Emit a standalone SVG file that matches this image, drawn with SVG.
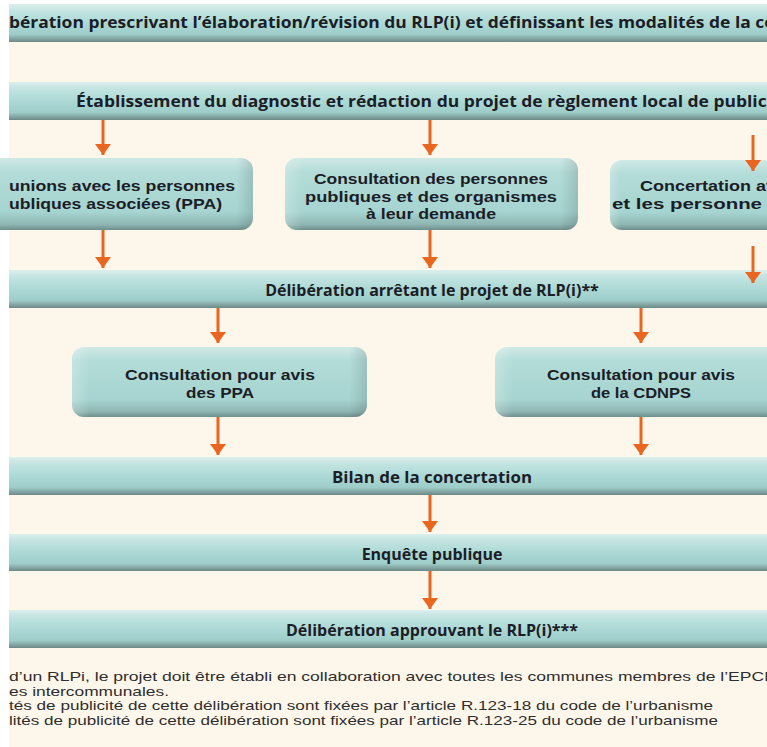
<svg xmlns="http://www.w3.org/2000/svg" width="767" height="747" viewBox="0 0 767 747">
  <defs>
    <linearGradient id="gBar" x1="0" y1="0" x2="0" y2="1">
      <stop offset="0" stop-color="#dcefed"/>
      <stop offset="0.18" stop-color="#c3e4e1"/>
      <stop offset="0.5" stop-color="#acd9d5"/>
      <stop offset="0.8" stop-color="#9ecdc9"/>
      <stop offset="0.9" stop-color="#86aaa7"/>
      <stop offset="1" stop-color="#6c8886"/>
    </linearGradient>
    <linearGradient id="gBox" x1="0" y1="0" x2="0" y2="1">
      <stop offset="0" stop-color="#cfe9e6"/>
      <stop offset="0.2" stop-color="#b3dcd8"/>
      <stop offset="0.75" stop-color="#a6d4d0"/>
      <stop offset="0.92" stop-color="#8fb6b3"/>
      <stop offset="1" stop-color="#6f8f8c"/>
    </linearGradient>
    <linearGradient id="gBoxH" x1="0" y1="0" x2="1" y2="0">
      <stop offset="0" stop-color="#ffffff" stop-opacity="0.25"/>
      <stop offset="0.06" stop-color="#ffffff" stop-opacity="0"/>
      <stop offset="0.94" stop-color="#000000" stop-opacity="0"/>
      <stop offset="1" stop-color="#000000" stop-opacity="0.12"/>
    </linearGradient>
    <marker id="ah" viewBox="0 0 11 16" refX="11" refY="8" markerWidth="11" markerHeight="16" markerUnits="userSpaceOnUse" orient="auto">
      <path d="M0,0 L11,8 L0,16 Z" fill="#e8661f"/>
    </marker>
  </defs>
  <style>
    .bar { fill: url(#gBar); }
    .box { fill: url(#gBox); }
    .boxh { fill: url(#gBoxH); }
    .t { font-family: "Open Sans", "DejaVu Sans", sans-serif; font-weight: 700; font-size: 16px; fill: #1b1d27; }
    .b { font-family: "Liberation Sans", Arial, sans-serif; font-weight: 700; font-size: 15px; fill: #1b1d27; }
    .c { text-anchor: middle; }
    .fn { font-family: "Liberation Sans", Arial, sans-serif; font-weight: 400; font-size: 13px; fill: #2e2e2e; }
    .arr line { stroke: #e8661f; stroke-width: 3; }
  </style>

  <rect x="0" y="0" width="767" height="747" fill="#ffffff"/>
  <rect x="9" y="4" width="758" height="743" fill="#fdf6ea"/>

  <g id="bar1">
    <rect class="bar" x="9" y="4" width="758" height="38"/>
    <text class="t" x="9" y="28" textLength="766" lengthAdjust="spacingAndGlyphs">bération prescrivant l’élaboration/révision du RLP(i) et définissant les modalités de la co</text>
  </g>

  <g id="bar2">
    <rect class="bar" x="9" y="82" width="758" height="38"/>
    <text class="t" x="76" y="107" textLength="696" lengthAdjust="spacingAndGlyphs">Établissement du diagnostic et rédaction du projet de règlement local de publici</text>
  </g>

  <g id="box-reunions">
    <rect class="box" x="-20" y="158" width="273" height="72" rx="12"/>
    <rect class="boxh" x="-20" y="158" width="273" height="72" rx="12"/>
    <text class="b" x="9" y="191" textLength="226" lengthAdjust="spacingAndGlyphs">unions avec les personnes</text>
    <text class="b" x="9" y="209" textLength="213" lengthAdjust="spacingAndGlyphs">ubliques associées (PPA)</text>
  </g>

  <g id="box-consultation">
    <rect class="box" x="285" y="158" width="293" height="72" rx="12"/>
    <rect class="boxh" x="285" y="158" width="293" height="72" rx="12"/>
    <text class="b c" x="431" y="184" textLength="234" lengthAdjust="spacingAndGlyphs">Consultation des personnes</text>
    <text class="b c" x="431" y="201.5" textLength="252" lengthAdjust="spacingAndGlyphs">publiques et des organismes</text>
    <text class="b c" x="431" y="219" textLength="130" lengthAdjust="spacingAndGlyphs">à leur demande</text>
  </g>

  <g id="box-concertation">
    <rect class="box" x="610" y="160" width="180" height="70" rx="12"/>
    <rect class="boxh" x="610" y="160" width="180" height="70" rx="12"/>
    <text class="b" x="640" y="191" textLength="136" lengthAdjust="spacingAndGlyphs">Concertation av</text>
    <text class="b" x="612" y="209" textLength="150" lengthAdjust="spacingAndGlyphs">et les personne</text>
  </g>

  <g id="bar3">
    <rect class="bar" x="9" y="270" width="758" height="38"/>
    <text class="t c" x="432" y="296">Délibération arrêtant le projet de RLP(i)**</text>
  </g>

  <g id="box-ppa">
    <rect class="box" x="72" y="347" width="295" height="70" rx="12"/>
    <rect class="boxh" x="72" y="347" width="295" height="70" rx="12"/>
    <text class="b c" x="220" y="380" textLength="190" lengthAdjust="spacingAndGlyphs">Consultation pour avis</text>
    <text class="b c" x="220" y="398" textLength="68" lengthAdjust="spacingAndGlyphs">des PPA</text>
  </g>

  <g id="box-cdnps">
    <rect class="box" x="495" y="347" width="300" height="70" rx="12"/>
    <rect class="boxh" x="495" y="347" width="300" height="70" rx="12"/>
    <text class="b c" x="641" y="380" textLength="188" lengthAdjust="spacingAndGlyphs">Consultation pour avis</text>
    <text class="b c" x="641" y="398" textLength="100" lengthAdjust="spacingAndGlyphs">de la CDNPS</text>
  </g>

  <g id="bar4">
    <rect class="bar" x="9" y="457" width="758" height="38"/>
    <text class="t c" x="432" y="483" textLength="200" lengthAdjust="spacingAndGlyphs">Bilan de la concertation</text>
  </g>

  <g id="bar5">
    <rect class="bar" x="9" y="534" width="758" height="37"/>
    <text class="t c" x="432" y="560">Enquête publique</text>
  </g>

  <g id="bar6">
    <rect class="bar" x="9" y="610" width="758" height="38"/>
    <text class="t c" x="432" y="636">Délibération approuvant le RLP(i)***</text>
  </g>

  <g id="connectors" class="arr">
    <line x1="103" y1="120" x2="103" y2="155" marker-end="url(#ah)"/>
    <line x1="430" y1="120" x2="430" y2="155" marker-end="url(#ah)"/>
    <line x1="753" y1="135" x2="753" y2="171" marker-end="url(#ah)"/>
    <line x1="103" y1="230" x2="103" y2="268" marker-end="url(#ah)"/>
    <line x1="430" y1="230" x2="430" y2="268" marker-end="url(#ah)"/>
    <line x1="753" y1="246" x2="753" y2="283" marker-end="url(#ah)"/>
    <line x1="218" y1="308" x2="218" y2="343" marker-end="url(#ah)"/>
    <line x1="641" y1="308" x2="641" y2="343" marker-end="url(#ah)"/>
    <line x1="218" y1="417" x2="218" y2="455" marker-end="url(#ah)"/>
    <line x1="641" y1="417" x2="641" y2="455" marker-end="url(#ah)"/>
    <line x1="430" y1="495" x2="430" y2="532" marker-end="url(#ah)"/>
    <line x1="430" y1="571" x2="430" y2="609" marker-end="url(#ah)"/>
  </g>

  <g id="footnotes">
    <text class="fn" x="9" y="681" textLength="760" lengthAdjust="spacingAndGlyphs">d’un RLPi, le projet doit être établi en collaboration avec toutes les communes membres de l’EPCI</text>
    <text class="fn" x="9" y="695.5" textLength="160" lengthAdjust="spacingAndGlyphs">es intercommunales.</text>
    <text class="fn" x="9" y="710" textLength="704" lengthAdjust="spacingAndGlyphs">tés de publicité de cette délibération sont fixées par l’article R.123-18 du code de l’urbanisme</text>
    <text class="fn" x="9" y="724.5" textLength="709" lengthAdjust="spacingAndGlyphs">lités de publicité de cette délibération sont fixées par l’article R.123-25 du code de l’urbanisme</text>
  </g>
</svg>
